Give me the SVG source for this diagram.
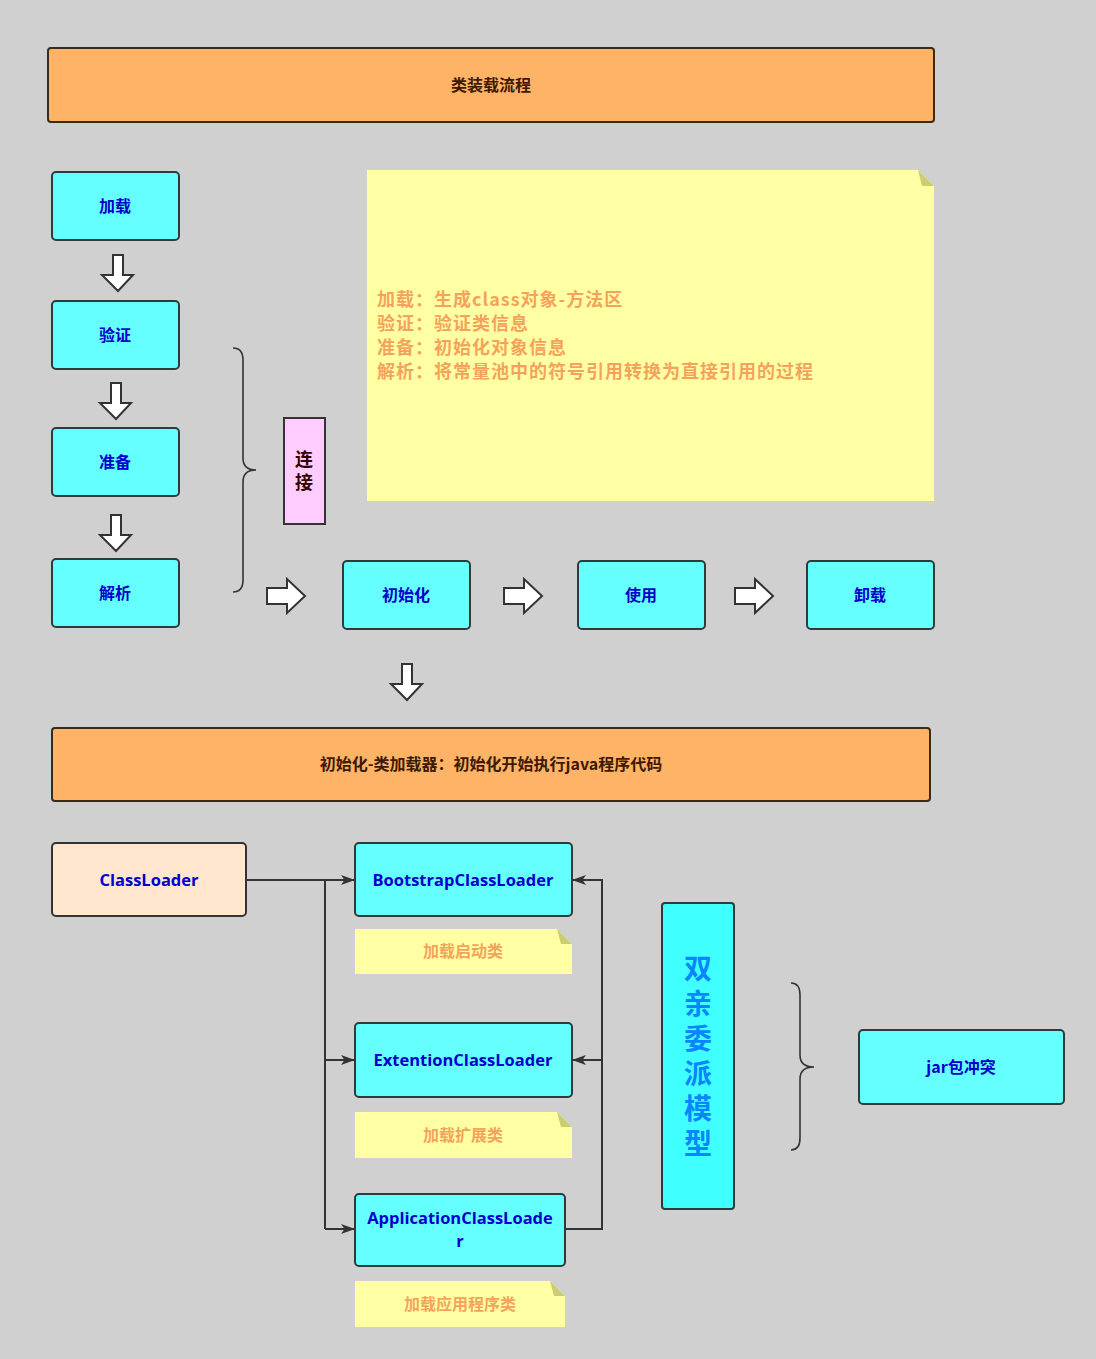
<svg xmlns="http://www.w3.org/2000/svg" width="1096" height="1359" viewBox="0 0 1096 1359">
<defs>
<style>
.box{fill:#66ffff;stroke:#2f3b3b;stroke-width:2}
.bar{fill:#ffb366;stroke:#3b2a1a;stroke-width:2}
.cjk{font-family:"Noto Sans CJK SC","Open Sans",sans-serif;font-weight:bold}
.lat{font-family:"Open Sans","Noto Sans CJK SC",sans-serif;font-weight:bold}
.blue{fill:#0000cc;font-size:16px}
.latsz{font-size:16.5px}
.barT{fill:#3d1a00;font-size:16px}
.note{fill:#ffffa3}
.fold{fill:#cccc70}
.noteT{fill:#f5a35c}
.blk{fill:#ffffff;stroke:#333333;stroke-width:2;stroke-linejoin:miter}
.ln{fill:none;stroke:#333333;stroke-width:2}
.brace{fill:none;stroke:#333333;stroke-width:1.6}
</style>
<marker id="ah" markerWidth="14" markerHeight="10" refX="14" refY="5" orient="auto" markerUnits="userSpaceOnUse">
<path d="M0,0 L14,5 L0,10 L3.5,5 Z" fill="#333333"/>
</marker>
</defs>
<rect x="0" y="0" width="1096" height="1359" fill="#d0d0d0"/>

<g id="title">
<rect class="bar" x="48" y="48" width="886" height="74" rx="3"/>
<text class="cjk barT" x="491" y="91" text-anchor="middle">类装载流程</text>
</g>

<g id="n-load">
<rect class="box" x="52" y="172" width="127" height="68" rx="4"/>
<text class="cjk blue" x="115" y="212" text-anchor="middle">加载</text>
</g>
<g id="n-verify">
<rect class="box" x="52" y="301" width="127" height="68" rx="4"/>
<text class="cjk blue" x="115" y="341" text-anchor="middle">验证</text>
</g>
<g id="n-prepare">
<rect class="box" x="52" y="428" width="127" height="68" rx="4"/>
<text class="cjk blue" x="115" y="468" text-anchor="middle">准备</text>
</g>
<g id="n-resolve">
<rect class="box" x="52" y="559" width="127" height="68" rx="4"/>
<text class="cjk blue" x="115" y="599" text-anchor="middle">解析</text>
</g>

<g id="n-link">
<rect x="284" y="418" width="41" height="106" fill="#ffccff" stroke="#333333" stroke-width="2"/>
<text class="cjk" x="304" y="450" writing-mode="vertical-rl" letter-spacing="5" font-size="18" fill="#330000">连接</text>
</g>

<g id="n-desc">
<path class="note" d="M367,170 L918,170 L934,186 L934,501 L367,501 Z"/>
<path class="fold" d="M918,170 L922,186 L934,186 Z"/>
<text class="cjk noteT" font-size="18" letter-spacing="1">
<tspan x="377" y="306">加载：生成class对象-方法区</tspan>
<tspan x="377" y="330">验证：验证类信息</tspan>
<tspan x="377" y="354">准备：初始化对象信息</tspan>
<tspan x="377" y="378">解析：将常量池中的符号引用转换为直接引用的过程</tspan>
</text>
</g>

<g id="n-init">
<rect class="box" x="343" y="561" width="127" height="68" rx="4"/>
<text class="cjk blue" x="406" y="601" text-anchor="middle">初始化</text>
</g>
<g id="n-use">
<rect class="box" x="578" y="561" width="127" height="68" rx="4"/>
<text class="cjk blue" x="641" y="601" text-anchor="middle">使用</text>
</g>
<g id="n-unload">
<rect class="box" x="807" y="561" width="127" height="68" rx="4"/>
<text class="cjk blue" x="870" y="601" text-anchor="middle">卸载</text>
</g>

<g id="bar2">
<rect class="bar" x="52" y="728" width="878" height="73" rx="3"/>
<text class="cjk barT" x="491" y="770" text-anchor="middle">初始化-类加载器：初始化开始执行java程序代码</text>
</g>

<g id="n-classloader">
<rect x="52" y="843" width="194" height="73" rx="4" fill="#ffe6cc" stroke="#333333" stroke-width="2"/>
<text class="lat blue latsz" x="149" y="886" text-anchor="middle">ClassLoader</text>
</g>
<g id="n-bootstrap">
<rect class="box" x="355" y="843" width="217" height="73" rx="4"/>
<text class="lat blue latsz" x="463" y="886" text-anchor="middle">BootstrapClassLoader</text>
</g>
<g id="note-bootstrap">
<path class="note" d="M355,929 L557,929 L572,944 L572,974 L355,974 Z"/>
<path class="fold" d="M557,929 L561,944 L572,944 Z"/>
<text class="cjk noteT" x="463" y="957" text-anchor="middle" font-size="16">加载启动类</text>
</g>
<g id="n-ext">
<rect class="box" x="355" y="1023" width="217" height="74" rx="4"/>
<text class="lat blue latsz" x="463" y="1066" text-anchor="middle">ExtentionClassLoader</text>
</g>
<g id="note-ext">
<path class="note" d="M355,1112 L557,1112 L572,1127 L572,1158 L355,1158 Z"/>
<path class="fold" d="M557,1112 L561,1127 L572,1127 Z"/>
<text class="cjk noteT" x="463" y="1141" text-anchor="middle" font-size="16">加载扩展类</text>
</g>
<g id="n-app">
<rect class="box" x="355" y="1194" width="210" height="72" rx="4"/>
<text class="lat blue latsz" text-anchor="middle"><tspan x="460" y="1224">ApplicationClassLoade</tspan><tspan x="460" y="1247">r</tspan></text>
</g>
<g id="note-app">
<path class="note" d="M355,1281 L550,1281 L565,1296 L565,1327 L355,1327 Z"/>
<path class="fold" d="M550,1281 L554,1296 L565,1296 Z"/>
<text class="cjk noteT" x="460" y="1310" text-anchor="middle" font-size="16">加载应用程序类</text>
</g>

<g id="n-parent">
<rect x="662" y="903" width="72" height="306" rx="3" fill="#40ffff" stroke="#2f3b3b" stroke-width="2"/>
<text class="cjk" x="698" y="954" writing-mode="vertical-rl" letter-spacing="7" font-size="28" fill="#0a84ff">双亲委派模型</text>
</g>

<g id="n-jar">
<rect class="box" x="859" y="1030" width="205" height="74" rx="4"/>
<text class="cjk blue" x="961" y="1073" text-anchor="middle">jar包冲突</text>
</g>

<g id="connectors">
<path class="blk" d="M113,255 L123,255 L123,275 L133,275 L118,291 L102,275 L113,275 Z"/>
<path class="blk" d="M111,383 L121,383 L121,403 L131,403 L116,419 L100,403 L111,403 Z"/>
<path class="blk" d="M111,515 L121,515 L121,535 L131,535 L116,551 L100,535 L111,535 Z"/>
<path class="blk" d="M402,664 L412,664 L412,684 L422,684 L407,700 L391,684 L402,684 Z"/>
<path class="blk" d="M267,588 L287,588 L287,579 L305,596 L287,613 L287,604 L267,604 Z"/>
<path class="blk" d="M504,588 L524,588 L524,579 L542,596 L524,613 L524,604 L504,604 Z"/>
<path class="blk" d="M735,588 L755,588 L755,579 L773,596 L755,613 L755,604 L735,604 Z"/>
<path class="brace" d="M233,348 Q243,348 243,360 L243,458 Q243,470 256,470 Q243,470 243,482 L243,580 Q243,592 233,592"/>
<path class="brace" d="M791,983 Q800,983 800,995 L800,1055 Q800,1067 814,1067 Q800,1067 800,1079 L800,1138 Q800,1150 791,1150"/>
<path class="ln" d="M246,880 L355,880" marker-end="url(#ah)"/>
<path class="ln" d="M325,880 L325,1229"/>
<path class="ln" d="M325,1060 L355,1060" marker-end="url(#ah)"/>
<path class="ln" d="M325,1229 L355,1229" marker-end="url(#ah)"/>
<path class="ln" d="M565,1229 L602,1229 L602,880 L572,880" marker-end="url(#ah)"/>
<path class="ln" d="M602,1060 L572,1060" marker-end="url(#ah)"/>
</g>
</svg>
